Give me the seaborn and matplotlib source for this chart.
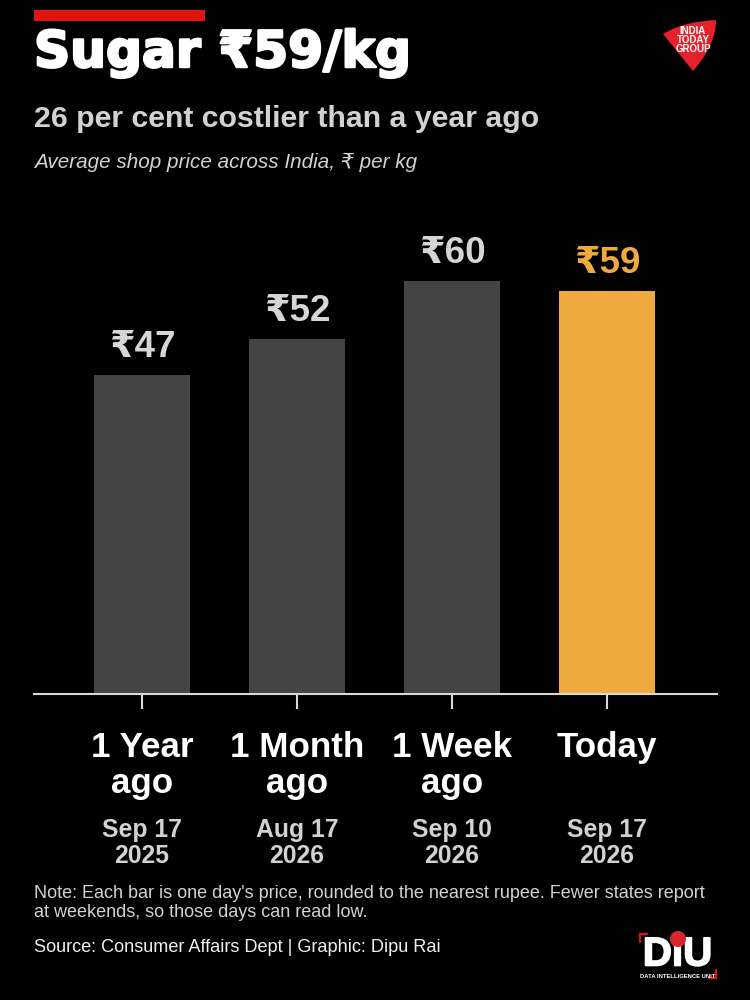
import matplotlib
matplotlib.use("Agg")
import matplotlib.pyplot as plt
import matplotlib.patheffects as pe
from matplotlib.patches import PathPatch, Circle, Rectangle
from matplotlib.path import Path
import seaborn as sns
import pandas as pd

periods = ["1 Year\nago", "1 Month\nago", "1 Week\nago", "Today"]
dates = ["Sep 17\n2025", "Aug 17\n2026", "Sep 10\n2026", "Sep 17\n2026"]
prices = [46.6, 51.9, 60.4, 58.9]
bar_colors = ["#444444", "#444444", "#444444", "#EFAA3F"]
label_colors = ["#D6D6D6", "#D6D6D6", "#D6D6D6", "#EFAA3F"]

title = "Sugar ₹59/kg"
subtitle = "26 per cent costlier than a year ago"
descr = "Average shop price across India, ₹ per kg"
note = "Note: Each bar is one day's price, rounded to the nearest rupee. Fewer states report\nat weekends, so those days can read low."
source = "Source: Consumer Affairs Dept | Graphic: Dipu Rai"

sns.set_theme(style="white")
FONT = ["Liberation Sans", "DejaVu Sans"]
plt.rcParams["font.family"] = FONT
BG = "#000000"

fig = plt.figure(figsize=(7.5, 10), dpi=100, facecolor=BG)
ax = fig.add_axes([34/750, 1-693.5/1000, (717-34)/750, 493.5/1000], facecolor=BG)

df = pd.DataFrame({"period": periods, "price": prices})
sns.barplot(data=df, x="period", y="price", hue="period", palette=bar_colors,
            legend=False, width=0.62, saturation=1, linewidth=0, ax=ax)
ax.set_xlim(-0.697, 3.71)
ax.set_ylim(0, 72.25)
ax.set_xlabel(""); ax.set_ylabel("")
ax.set_yticks([])
for s in ["top", "left", "right"]:
    ax.spines[s].set_visible(False)
ax.spines["bottom"].set_color("#D8D8D8")
ax.spines["bottom"].set_linewidth(1.5)
ax.tick_params(axis="x", length=11, width=1.5, color="#D8D8D8", bottom=True, pad=16)
ax.set_xticks(range(len(periods)))
ax.set_xticklabels(periods, color="white", fontsize=25.2, fontweight="bold", linespacing=1.1)

for i, (p, d) in enumerate(zip(prices, dates)):
    ax.annotate(f"₹{p:.0f}", (i, p), xytext=(0, 7.5), textcoords="offset points",
                ha="center", va="bottom", fontsize=26.5, fontweight="bold", color=label_colors[i])
    ax.annotate(d, (i, 0), xytext=(0, -124), textcoords="offset pixels", xycoords=("data", "axes fraction"),
                ha="center", va="top", fontsize=17.8, fontweight="bold", color="#D2D2D2", linespacing=1.15)

ov = fig.add_axes([0, 0, 1, 1], facecolor="none")
ov.set_xlim(0, 750); ov.set_ylim(1000, 0); ov.axis("off")

ov.add_patch(Rectangle((34, 10), 171, 11, color="#E3130F", lw=0))
ov.text(34, 53, title, fontsize=36.2, fontweight="bold", family="DejaVu Sans", color="white", va="center", ha="left",
        path_effects=[pe.withStroke(linewidth=1.8, foreground="white")])
ov.text(34, 119, subtitle, fontsize=21.8, fontweight="bold", color="#D2D2D2", va="center", ha="left")
ov.text(34, 162, descr, fontsize=14.9, style="italic", color="#D2D2D2", va="center", ha="left")
ov.text(34, 903, note, fontsize=13, color="#D2D2D2", va="center", ha="left", linespacing=1.2)
ov.text(34, 948, source, fontsize=13.1, color="#F0F0F0", va="center", ha="left")

# India Today Group logo
verts = [(663, 34), (680, 24), (698, 21), (716, 20), (716, 38), (707, 55), (693, 71), (663, 34)]
codes = [Path.MOVETO, Path.CURVE4, Path.CURVE4, Path.CURVE4, Path.CURVE4, Path.CURVE4, Path.CURVE4, Path.CLOSEPOLY]
ov.add_patch(PathPatch(Path(verts, codes), facecolor="#E3222B", lw=0))
ov.text(693, 40, "INDIA\nTODAY\nGROUP", fontsize=7, fontweight="bold", color="white", ha="center", va="center", linespacing=0.85)

# DIU logo
ov.text(677.5, 965.5, "DiU", fontsize=29, fontweight="bold", color="white", ha="center", va="baseline",
        path_effects=[pe.withStroke(linewidth=1.2, foreground="white")])
ov.add_patch(Circle((678, 939), 8, color="#D9262E", lw=0, zorder=6))
ov.text(678, 976, "DATA INTELLIGENCE UNIT", fontsize=4.2, fontweight="bold", color="white", ha="center", va="center")
ov.plot([640, 640, 647], [942, 934, 934], color="#E3130F", lw=1.6, solid_joinstyle="miter")
ov.plot([716, 716, 709], [970, 978, 978], color="#E3130F", lw=1.6, solid_joinstyle="miter")

fig.savefig("out.png", dpi=100, facecolor=BG)
